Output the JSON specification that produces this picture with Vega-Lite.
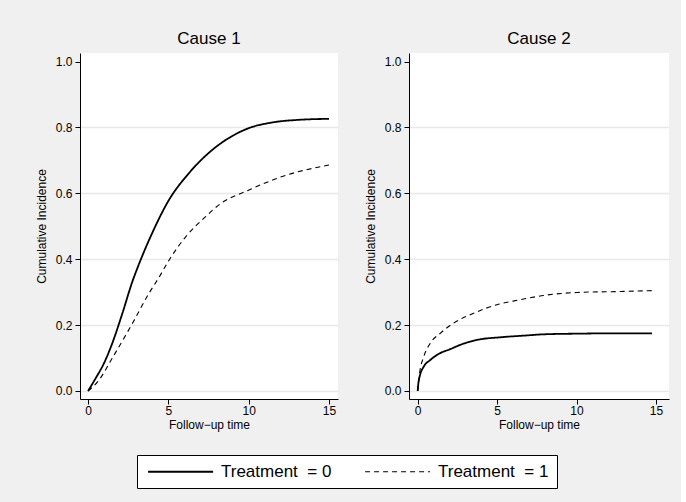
{
  "$schema": "https://vega.github.io/schema/vega-lite/v6.json",
  "background": "#f0f0f0",
  "padding": {"left": 35, "top": 30, "right": 12, "bottom": 14},
  "config": {
    "font": "Liberation Sans",
    "view": {"fill": "white", "stroke": null},
    "concat": {"spacing": 26},
    "axis": {
      "domainColor": "black", "domainWidth": 1,
      "tickColor": "black", "tickWidth": 1, "tickSize": 5,
      "labelColor": "black", "labelFontSize": 12, "labelFont": "Liberation Sans",
      "titleColor": "black", "titleFontSize": 12, "titleFontWeight": "normal", "titleFont": "Liberation Sans"
    },
    "title": {"fontSize": 17, "fontWeight": "normal", "color": "black", "anchor": "middle", "baseline": "alphabetic", "offset": 5, "font": "Liberation Sans"}
  },
  "data": {"values": [
    {"cause": 1, "group": "Treatment\u00a0 = 0", "t": 0, "ci": 0},
    {"cause": 1, "group": "Treatment\u00a0 = 0", "t": 0.48, "ci": 0.039},
    {"cause": 1, "group": "Treatment\u00a0 = 0", "t": 0.99, "ci": 0.084},
    {"cause": 1, "group": "Treatment\u00a0 = 0", "t": 1.51, "ci": 0.145},
    {"cause": 1, "group": "Treatment\u00a0 = 0", "t": 2.14, "ci": 0.236},
    {"cause": 1, "group": "Treatment\u00a0 = 0", "t": 2.76, "ci": 0.332},
    {"cause": 1, "group": "Treatment\u00a0 = 0", "t": 3.17, "ci": 0.385},
    {"cause": 1, "group": "Treatment\u00a0 = 0", "t": 4.0, "ci": 0.48},
    {"cause": 1, "group": "Treatment\u00a0 = 0", "t": 5.04, "ci": 0.58},
    {"cause": 1, "group": "Treatment\u00a0 = 0", "t": 6.28, "ci": 0.661},
    {"cause": 1, "group": "Treatment\u00a0 = 0", "t": 7.74, "ci": 0.732},
    {"cause": 1, "group": "Treatment\u00a0 = 0", "t": 8.98, "ci": 0.774},
    {"cause": 1, "group": "Treatment\u00a0 = 0", "t": 10.02, "ci": 0.798},
    {"cause": 1, "group": "Treatment\u00a0 = 0", "t": 11.47, "ci": 0.815},
    {"cause": 1, "group": "Treatment\u00a0 = 0", "t": 13.13, "ci": 0.823},
    {"cause": 1, "group": "Treatment\u00a0 = 0", "t": 15, "ci": 0.826},
    {"cause": 1, "group": "Treatment\u00a0 = 1", "t": 0, "ci": 0},
    {"cause": 1, "group": "Treatment\u00a0 = 1", "t": 0.68, "ci": 0.033},
    {"cause": 1, "group": "Treatment\u00a0 = 1", "t": 1.51, "ci": 0.1},
    {"cause": 1, "group": "Treatment\u00a0 = 1", "t": 2.76, "ci": 0.205},
    {"cause": 1, "group": "Treatment\u00a0 = 1", "t": 3.8, "ci": 0.297},
    {"cause": 1, "group": "Treatment\u00a0 = 1", "t": 4.42, "ci": 0.345},
    {"cause": 1, "group": "Treatment\u00a0 = 1", "t": 5.04, "ci": 0.397},
    {"cause": 1, "group": "Treatment\u00a0 = 1", "t": 6.08, "ci": 0.468},
    {"cause": 1, "group": "Treatment\u00a0 = 1", "t": 7.32, "ci": 0.529},
    {"cause": 1, "group": "Treatment\u00a0 = 1", "t": 8.15, "ci": 0.565},
    {"cause": 1, "group": "Treatment\u00a0 = 1", "t": 10.02, "ci": 0.61},
    {"cause": 1, "group": "Treatment\u00a0 = 1", "t": 12.09, "ci": 0.651},
    {"cause": 1, "group": "Treatment\u00a0 = 1", "t": 15, "ci": 0.686},
    {"cause": 2, "group": "Treatment\u00a0 = 0", "t": 0, "ci": 0},
    {"cause": 2, "group": "Treatment\u00a0 = 0", "t": 0.04, "ci": 0.022},
    {"cause": 2, "group": "Treatment\u00a0 = 0", "t": 0.12, "ci": 0.043},
    {"cause": 2, "group": "Treatment\u00a0 = 0", "t": 0.38, "ci": 0.074},
    {"cause": 2, "group": "Treatment\u00a0 = 0", "t": 0.79, "ci": 0.094},
    {"cause": 2, "group": "Treatment\u00a0 = 0", "t": 1.42, "ci": 0.115},
    {"cause": 2, "group": "Treatment\u00a0 = 0", "t": 2.05, "ci": 0.127},
    {"cause": 2, "group": "Treatment\u00a0 = 0", "t": 2.68, "ci": 0.14},
    {"cause": 2, "group": "Treatment\u00a0 = 0", "t": 3.73, "ci": 0.155},
    {"cause": 2, "group": "Treatment\u00a0 = 0", "t": 5.2, "ci": 0.163},
    {"cause": 2, "group": "Treatment\u00a0 = 0", "t": 6.67, "ci": 0.168},
    {"cause": 2, "group": "Treatment\u00a0 = 0", "t": 7.93, "ci": 0.172},
    {"cause": 2, "group": "Treatment\u00a0 = 0", "t": 10, "ci": 0.174},
    {"cause": 2, "group": "Treatment\u00a0 = 0", "t": 12.5, "ci": 0.175},
    {"cause": 2, "group": "Treatment\u00a0 = 0", "t": 14.75, "ci": 0.175},
    {"cause": 2, "group": "Treatment\u00a0 = 1", "t": 0, "ci": 0},
    {"cause": 2, "group": "Treatment\u00a0 = 1", "t": 0.12, "ci": 0.054},
    {"cause": 2, "group": "Treatment\u00a0 = 1", "t": 0.38, "ci": 0.104},
    {"cause": 2, "group": "Treatment\u00a0 = 1", "t": 0.79, "ci": 0.145},
    {"cause": 2, "group": "Treatment\u00a0 = 1", "t": 1.42, "ci": 0.175},
    {"cause": 2, "group": "Treatment\u00a0 = 1", "t": 2.26, "ci": 0.206},
    {"cause": 2, "group": "Treatment\u00a0 = 1", "t": 3.52, "ci": 0.236},
    {"cause": 2, "group": "Treatment\u00a0 = 1", "t": 4.99, "ci": 0.262},
    {"cause": 2, "group": "Treatment\u00a0 = 1", "t": 6.46, "ci": 0.277},
    {"cause": 2, "group": "Treatment\u00a0 = 1", "t": 7.93, "ci": 0.29},
    {"cause": 2, "group": "Treatment\u00a0 = 1", "t": 10.03, "ci": 0.299},
    {"cause": 2, "group": "Treatment\u00a0 = 1", "t": 12.76, "ci": 0.302},
    {"cause": 2, "group": "Treatment\u00a0 = 1", "t": 14.97, "ci": 0.305}
  ]},
  "resolve": {"scale": {"strokeDash": "shared"}},
  "hconcat": [
    {
      "title": "Cause 1",
      "width": 258, "height": 346,
      "transform": [{"filter": "datum.cause == 1"}],
      "mark": {"type": "line", "interpolate": "monotone", "color": "black"},
      "encoding": {
        "x": {"field": "t", "type": "quantitative", "scale": {"domain": [-0.5, 15.56], "nice": false, "zero": false},
              "axis": {"values": [0, 5, 10, 15], "title": "Follow\u2212up time", "grid": false, "labelPadding": 1, "titlePadding": 3}},
        "y": {"field": "ci", "type": "quantitative", "scale": {"domain": [-0.0243, 1.0258], "nice": false, "zero": false},
              "axis": {"values": [0, 0.2, 0.4, 0.6, 0.8, 1.0], "format": ".1f", "title": "Cumulative Incidence", "grid": true,
                       "gridColor": {"condition": {"test": "datum.value >= 1", "value": "white"}, "value": "#e8e8e8"},
                       "gridWidth": 1.3, "labelPadding": 3, "titlePadding": 7}},
        "strokeDash": {"field": "group", "type": "nominal",
              "scale": {"domain": ["Treatment\u00a0 = 0", "Treatment\u00a0 = 1"], "range": [[1, 0], [5, 4]]},
              "legend": {"orient": "none", "legendX": 57, "legendY": 402, "direction": "horizontal", "title": null,
                         "symbolType": "M-1,0H11", "symbolSize": 117.4, "symbolStrokeWidth": 1.5, "symbolStrokeColor": "black",
                         "labelFontSize": 17, "labelColor": "black", "labelOffset": 59, "columnPadding": 30,
                         "strokeColor": "black", "fillColor": "white", "padding": 8, "labelFont": "Liberation Sans"}},
        "strokeWidth": {"field": "group", "type": "nominal", "scale": {"domain": ["Treatment\u00a0 = 0", "Treatment\u00a0 = 1"], "range": [1.8, 1.1]}, "legend": null}
      }
    },
    {
      "title": "Cause 2",
      "width": 260, "height": 346,
      "transform": [{"filter": "datum.cause == 2"}],
      "mark": {"type": "line", "interpolate": "monotone", "color": "black"},
      "encoding": {
        "x": {"field": "t", "type": "quantitative", "scale": {"domain": [-0.547, 15.82], "nice": false, "zero": false},
              "axis": {"values": [0, 5, 10, 15], "title": "Follow\u2212up time", "grid": false, "labelPadding": 1, "titlePadding": 3}},
        "y": {"field": "ci", "type": "quantitative", "scale": {"domain": [-0.0243, 1.0258], "nice": false, "zero": false},
              "axis": {"values": [0, 0.2, 0.4, 0.6, 0.8, 1.0], "format": ".1f", "title": "Cumulative Incidence", "grid": true,
                       "gridColor": {"condition": {"test": "datum.value >= 1", "value": "white"}, "value": "#e8e8e8"},
                       "gridWidth": 1.3, "labelPadding": 3, "titlePadding": 7}},
        "strokeDash": {"field": "group", "type": "nominal",
              "scale": {"domain": ["Treatment\u00a0 = 0", "Treatment\u00a0 = 1"], "range": [[1, 0], [5, 4]]}},
        "strokeWidth": {"field": "group", "type": "nominal", "scale": {"domain": ["Treatment\u00a0 = 0", "Treatment\u00a0 = 1"], "range": [1.8, 1.1]}, "legend": null}
      }
    }
  ]
}
